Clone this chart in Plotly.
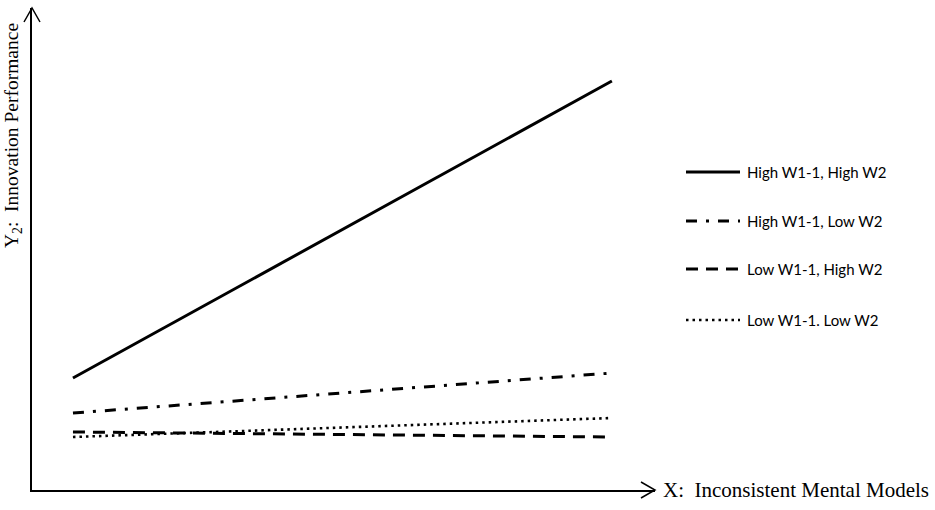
import plotly.graph_objects as go

# Data (x at low/high of X; y in arbitrary units of predicted Y2)
x_vals = [-1, 1]
series_names = ["High W1-1, High W2", "High W1-1, Low W2", "Low W1-1, High W2", "Low W1-1. Low W2"]
y_high_high = [1.12, 4.09]
y_high_low = [0.77, 1.17]
y_low_high = [0.58, 0.53]
y_low_low = [0.53, 0.72]
series_values = [y_high_high, y_high_low, y_low_high, y_low_low]

dashes = ["solid", "11px,9px,3px,9px", "12px,8px", "2.5px,4px"]
widths = [3, 3, 3, 2.6]

W, H = 935, 510
L, R, T, B = 32, 280, 8, 20
pw, ph = W - L - R, H - T - B

def px_to_paper_x(px):
    return (px - L) / pw

def px_to_paper_y(py):
    return (H - B - py) / ph

fig = go.Figure()
for name, ys, d, w in zip(series_names, series_values, dashes, widths):
    fig.add_trace(go.Scatter(x=x_vals, y=ys, mode="lines", name=name,
                             line=dict(color="black", width=w, dash=d),
                             showlegend=False, hoverinfo="skip"))

shapes = []
# axes arrows (open chevrons)
shapes.append(dict(type="path", xref="paper", yref="paper",
                   path=f"M {px_to_paper_x(24)} {px_to_paper_y(22)} L 0 1 L {px_to_paper_x(40)} {px_to_paper_y(22)}",
                   line=dict(color="black", width=1.5)))
shapes.append(dict(type="path", xref="paper", yref="paper",
                   path=f"M {px_to_paper_x(641)} {px_to_paper_y(482)} L 1 0 L {px_to_paper_x(641)} {px_to_paper_y(498)}",
                   line=dict(color="black", width=1.5)))

# legend samples
leg_y = [172, 221, 269, 320]
annotations = []
for name, d, w, ly in zip(series_names, dashes, widths, leg_y):
    shapes.append(dict(type="line", xref="paper", yref="paper",
                       x0=px_to_paper_x(686), x1=px_to_paper_x(740),
                       y0=px_to_paper_y(ly), y1=px_to_paper_y(ly),
                       line=dict(color="black", width=w, dash=d)))
    annotations.append(dict(xref="paper", yref="paper", x=px_to_paper_x(745), y=px_to_paper_y(ly),
                            xanchor="left", yanchor="middle", showarrow=False, text=name,
                            font=dict(family="Lato", size=15, color="black")))

annotations.append(dict(xref="paper", yref="paper", x=px_to_paper_x(661), y=0,
                        xanchor="left", yanchor="middle", showarrow=False,
                        text="X:  Inconsistent Mental Models",
                        font=dict(family="Liberation Serif", size=21, color="black")))
annotations.append(dict(xref="paper", yref="paper", x=px_to_paper_x(13), y=px_to_paper_y(136),
                        xanchor="center", yanchor="middle", showarrow=False, textangle=-90,
                        text="Y<sub>2</sub>:  Innovation Performance",
                        font=dict(family="Liberation Serif", size=19.5, color="black")))

fig.update_layout(
    width=W, height=H,
    margin=dict(l=L, r=R, t=T, b=B, autoexpand=False),
    paper_bgcolor="white", plot_bgcolor="white",
    hovermode=False,
    xaxis=dict(range=[-1.152, 1.16], showgrid=False, zeroline=False, showticklabels=False,
               ticks="", showline=True, linecolor="black", linewidth=1.5),
    yaxis=dict(range=[0, 4.82], showgrid=False, zeroline=False, showticklabels=False,
               ticks="", showline=True, linecolor="black", linewidth=1.5),
    shapes=shapes, annotations=annotations,
)

fig.write_html("out.html", config={"displayModeBar": False},
               post_script="document.body.style.margin='0';document.body.style.overflow='hidden';")
